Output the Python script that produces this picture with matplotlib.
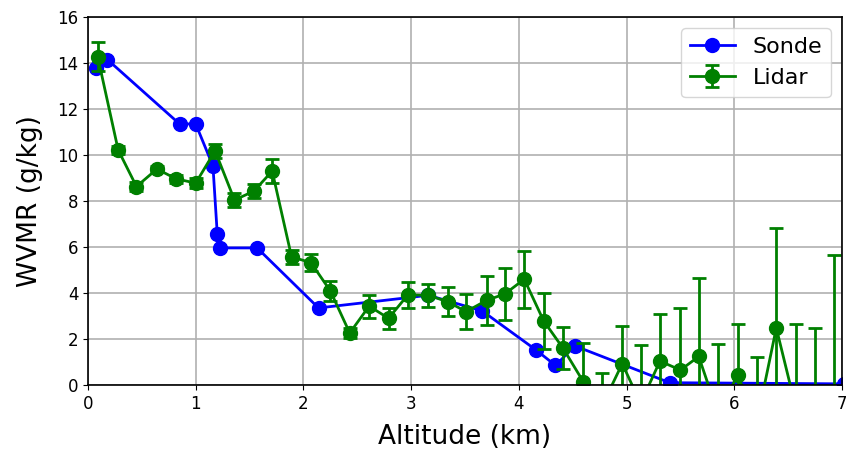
import numpy as np
import matplotlib
matplotlib.use("Agg")
import matplotlib.pyplot as plt

# sonde profile
sonde_alt = [0.07, 0.18, 0.85, 1.0, 1.16, 1.2, 1.23, 1.57, 2.14, 3.16, 3.66, 4.16, 4.34, 4.52, 5.40, 7.02]
sonde_wvmr = [13.8, 14.15, 11.35, 11.35, 9.52, 6.57, 5.96, 5.96, 3.35, 3.9, 3.22, 1.52, 0.85, 1.7, 0.1, 0.05]

# lidar retrieval
lidar_alt = [0.09, 0.28, 0.45, 0.64, 0.82, 1.00, 1.18, 1.36, 1.54, 1.71,
             1.89, 2.07, 2.25, 2.43, 2.61, 2.79, 2.97, 3.16, 3.34, 3.51,
             3.70, 3.87, 4.05, 4.23, 4.41, 4.60, 4.77, 4.96, 5.13, 5.31,
             5.50, 5.67, 5.85, 6.03, 6.21, 6.39, 6.57, 6.75, 6.93]
lidar_wvmr = [14.28, 10.22, 8.63, 9.39, 8.96, 8.78, 10.18, 8.04, 8.43, 9.3,
              5.57, 5.32, 4.09, 2.26, 3.43, 2.9, 3.92, 3.9, 3.62, 3.19,
              3.68, 3.96, 4.6, 2.79, 1.6, 0.13, -0.93, 0.93, -0.8, 1.04,
              0.65, 1.24, -1.26, 0.43, -1.59, 2.48, -0.96, -1.2, -1.0]
lidar_err = [0.62, 0.18, 0.18, 0.15, 0.18, 0.22, 0.3, 0.3, 0.3, 0.53,
             0.32, 0.38, 0.43, 0.2, 0.5, 0.46, 0.58, 0.5, 0.64, 0.75,
             1.05, 1.12, 1.24, 1.22, 0.92, 1.7, 1.45, 1.64, 2.54, 2.05,
             2.7, 3.4, 3.04, 2.22, 2.79, 4.35, 3.6, 3.68, 6.65]

fig = plt.figure(figsize=(8.46, 4.5), dpi=100)
ax = fig.add_axes([88 / 846, 1 - 385 / 450, 754 / 846, 368 / 450])

ax.plot(sonde_alt, sonde_wvmr, '-o', color='blue', lw=2, markersize=10, label='Sonde')
ax.errorbar(lidar_alt, lidar_wvmr, yerr=lidar_err, fmt='-o', color='green', lw=2,
            markersize=10, elinewidth=2, capsize=5, capthick=2, label='Lidar')

ax.set_xlim(0, 7)
ax.set_ylim(0, 16)
ax.set_xticks(range(0, 8))
ax.set_yticks(range(0, 17, 2))
ax.tick_params(labelsize=12)
ax.grid(True, color='#b0b0b0', lw=1.2)
ax.set_axisbelow(True)
for s in ax.spines.values():
    s.set_linewidth(1.2)

ax.set_xlabel('Altitude (km)', fontsize=19, labelpad=8)
ax.set_ylabel('WVMR (g/kg)', fontsize=19, labelpad=10)
ax.legend(loc='upper right', fontsize=16)

fig.savefig('out.png', dpi=100)
